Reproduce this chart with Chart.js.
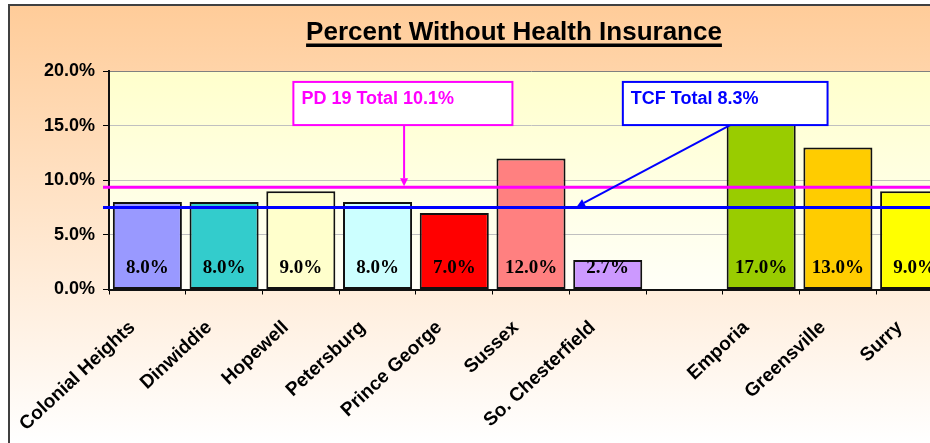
<!DOCTYPE html>
<html>
<head>
<meta charset="utf-8">
<script src="https://cdn.jsdelivr.net/npm/chart.js@4.4.1/dist/chart.umd.min.js"></script>
<style>
  html, body { margin: 0; padding: 0; background: #fff; overflow: hidden; }
  #wrap { width: 930px; height: 443px; overflow: hidden; }
</style>
</head>
<body>
<div id="wrap"><canvas id="myChart1" width="1028" height="443"></canvas></div>
<script>
// datos
const categories = ['Colonial Heights', 'Dinwiddie', 'Hopewell', 'Petersburg', 'Prince George', 'Sussex', 'So. Chesterfield', '', 'Emporia', 'Greensville', 'Surry'];
const uninsured = [8.0, 8.0, 9.0, 8.0, 7.0, 12.0, 2.7, null, 17.0, 13.0, 9.0];
const refLabels = ['PD 19 Total 10.1%', 'TCF Total 8.3%'];
const refValues = [9.35, 7.5];

// estilos
const barColors = ['#9999FF', '#33CCCC', '#FFFFCC', '#CCFFFF', '#FF0000', '#FF8080', '#CC99FF', '#FFFFFF', '#99CC00', '#FFCC00', '#FFFF00'];
const refColors = ['#FF00FF', '#0000FF'];
// cajas de texto y flechas, en unidades del grafico (indice de categoria, %)
const refBoxes = [
  { x0: 1.903, x1: 4.758, yTop: 19.0, yBottom: 15.05, arrowX0: 3.346, arrowX1: 3.346 },
  { x0: 6.197, x1: 8.865, yTop: 19.0, yBottom: 15.05, arrowX0: 7.596, arrowX1: 5.598 }
];

const sansFont = '"Liberation Sans", Arial, sans-serif';
Chart.defaults.font.family = sansFont;

const bgPlugin = {
  id: 'bgPlugin',
  beforeDraw(chart) {
    const c = chart.ctx;
    const area = chart.chartArea;
    c.save();
    c.fillStyle = '#FFFFFF';
    c.fillRect(0, 0, chart.width, chart.height);
    // marco exterior
    let g = c.createLinearGradient(0, 5, 0, chart.height);
    g.addColorStop(0, '#FFCC99');
    g.addColorStop(1, '#FFFFFF');
    c.fillStyle = g;
    c.fillRect(9, 5, chart.width, chart.height);
    c.strokeStyle = '#404040';
    c.lineWidth = 2;
    c.strokeRect(9, 5, chart.width + 10, chart.height + 10);
    // area del grafico
    g = c.createLinearGradient(0, area.top, 0, area.bottom);
    g.addColorStop(0, '#FFFFCC');
    g.addColorStop(1, '#FFFFF8');
    c.fillStyle = g;
    c.fillRect(area.left, area.top, area.right - area.left, area.bottom - area.top);
    // titulo subrayado
    const title = 'Percent Without Health Insurance';
    c.font = 'bold 26px ' + sansFont;
    c.fillStyle = '#000';
    c.textAlign = 'center';
    c.textBaseline = 'alphabetic';
    const cx = chart.width / 2;
    c.fillText(title, cx, 40);
    const w = c.measureText(title).width;
    c.fillRect(cx - w / 2, 43.5, w, 3.5);
    c.restore();
  }
};

function arrow(c, x0, y0, x1, y1, color) {
  const ang = Math.atan2(y1 - y0, x1 - x0);
  const len = 8, half = 4;
  c.strokeStyle = color;
  c.fillStyle = color;
  c.lineWidth = 2;
  c.beginPath();
  c.moveTo(x0, y0);
  c.lineTo(x1 - Math.cos(ang) * len, y1 - Math.sin(ang) * len);
  c.stroke();
  c.beginPath();
  c.moveTo(x1, y1);
  c.lineTo(x1 - Math.cos(ang) * len - Math.sin(ang) * half, y1 - Math.sin(ang) * len + Math.cos(ang) * half);
  c.lineTo(x1 - Math.cos(ang) * len + Math.sin(ang) * half, y1 - Math.sin(ang) * len - Math.cos(ang) * half);
  c.closePath();
  c.fill();
}

const overlayPlugin = {
  id: 'overlayPlugin',
  afterDatasetsDraw(chart) {
    const c = chart.ctx;
    const xs = chart.scales.x;
    const ys = chart.scales.y;
    const area = chart.chartArea;
    c.save();
    // etiquetas dentro de las barras
    const meta = chart.getDatasetMeta(0);
    c.font = 'bold 19px "Liberation Serif", "Times New Roman", serif';
    c.fillStyle = '#000';
    c.textAlign = 'center';
    c.textBaseline = 'middle';
    meta.data.forEach((bar, i) => {
      if (uninsured[i] == null) return;
      c.fillText(uninsured[i].toFixed(1) + '%', bar.x, ys.getPixelForValue(0) - 21);
    });
    // lineas de referencia
    refValues.forEach((v, i) => {
      const y = ys.getPixelForValue(v);
      c.strokeStyle = refColors[i];
      c.lineWidth = 3;
      c.beginPath();
      c.moveTo(area.left - 6, y);
      c.lineTo(area.right, y);
      c.stroke();
    });
    // cajas y flechas
    refBoxes.forEach((b, i) => {
      const left = xs.getPixelForValue(b.x0);
      const right = xs.getPixelForValue(b.x1);
      const top = ys.getPixelForValue(b.yTop);
      const bottom = ys.getPixelForValue(b.yBottom);
      arrow(c, xs.getPixelForValue(b.arrowX0), bottom, xs.getPixelForValue(b.arrowX1), ys.getPixelForValue(refValues[i]) - 1, refColors[i]);
      c.fillStyle = '#FFFFFF';
      c.fillRect(left, top, right - left, bottom - top);
      c.strokeStyle = refColors[i];
      c.lineWidth = 2;
      c.strokeRect(left, top, right - left, bottom - top);
      c.fillStyle = refColors[i];
      c.font = 'bold 18px ' + sansFont;
      c.textAlign = 'left';
      c.textBaseline = 'alphabetic';
      c.fillText(refLabels[i], left + 8, top + 22);
    });
    c.restore();
  }
};

const ctx = document.getElementById('myChart1');

new Chart(ctx, {
  type: 'bar',
  data: {
    labels: categories,
    datasets: [{
      label: 'Percent Without Health Insurance',
      data: uninsured,
      backgroundColor: barColors,
      borderColor: '#111111',
      borderWidth: 2,
      borderSkipped: false,
      barPercentage: 0.9,
      categoryPercentage: 1.0
    }]
  },
  options: {
    responsive: false,
    devicePixelRatio: 1,
    animation: false,
    layout: { padding: { top: 71, left: 0, right: 75, bottom: 0 } },
    plugins: {
      legend: { display: false },
      tooltip: { enabled: false },
      title: { display: false }
    },
    scales: {
      x: {
        offset: true,
        grid: { offset: true, drawOnChartArea: false, tickLength: 5, tickColor: '#000', tickWidth: 1 },
        border: { color: '#111', width: 2 },
        ticks: {
          color: '#000',
          font: { size: 19, weight: 'bold' },
          minRotation: 43,
          maxRotation: 43,
          autoSkip: false,
          padding: 22,
          labelOffset: -15
        },
        afterFit: (scale) => { scale.height = 153.5; }
      },
      y: {
        min: 0,
        max: 20,
        grid: {
          color: (c) => (c.tick && c.tick.value === 20 ? '#808080' : '#C0C0C0'),
          tickLength: 6,
          tickColor: '#000'
        },
        border: { color: '#111', width: 2 },
        ticks: {
          stepSize: 5,
          color: '#000',
          padding: 8,
          font: { size: 18, weight: 'bold' },
          callback: (v) => v.toFixed(1) + '%'
        },
        afterFit: (scale) => { scale.width = 109; }
      }
    }
  },
  plugins: [bgPlugin, overlayPlugin]
});
</script>
</body>
</html>
